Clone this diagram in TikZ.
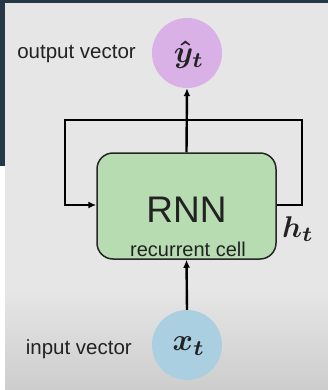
\documentclass[tikz,border=0pt]{standalone}
\usepackage{amsmath}
\usepackage{fontspec}
\usepackage{graphicx}
\setmainfont{Liberation Sans}
\usetikzlibrary{arrows.meta}
\definecolor{slate}{HTML}{263848}
\definecolor{bggray}{HTML}{E6E6E6}
\definecolor{bgdark}{HTML}{CDCDCD}
\definecolor{outpurple}{HTML}{DAB1E6}
\definecolor{inblue}{HTML}{A9CFE0}
\definecolor{cellgreen}{HTML}{B7DCB1}
\definecolor{txt}{HTML}{222222}
\tikzset{
  vec/.style={circle, minimum size=70pt, inner sep=0pt, text=txt},
  lbl/.style={font=\fontsize{20.5pt}{24pt}\selectfont, text=txt, inner sep=0pt},
  conn/.style={line width=2.4pt, black},
  arr/.style={conn, -{Latex[length=8pt,width=7pt]}},
}
\begin{document}
\begin{tikzpicture}[x=1pt,y=-1pt]
\useasboundingbox (0,0) rectangle (328,390);
% background
\fill[white] (0,0) rectangle (328,390);
\fill[slate] (0,0) rectangle (328,3.5);
\fill[slate] (0,0) rectangle (5,166);
\fill[bggray] (5,3.5) rectangle (328,290);
\shade[top color=bggray, bottom color=bgdark] (5,290) rectangle (328,390);
% nodes
\node[vec, fill=outpurple] (yhat) at (187,53) {};
\node[text=txt, inner sep=0pt] (yhatlbl) at (189,55) {\scalebox{3.1}{$\boldsymbol{\hat{y}_t}$}};
\node[vec, fill=inblue] (x) at (187,345) {};
\node[text=txt, inner sep=0pt] (xlbl) at (189,346) {\scalebox{3.1}{$\boldsymbol{x_t}$}};
\node[lbl, anchor=east] (outlbl) at (136,54) {output vector};
\node[lbl, anchor=east] (inlbl) at (132,349) {input vector};
\node[draw=black!85, line width=1.5pt, fill=cellgreen, rounded corners=16pt,
      minimum width=179pt, minimum height=106pt, inner sep=0pt] (cell) at (186.5,206) {};
\node[text=txt, font=\fontsize{37pt}{42pt}\selectfont, inner sep=0pt] (rnn) at (186.5,210) {RNN};
\node[text=txt, font=\fontsize{20pt}{24pt}\selectfont, inner sep=0pt] (rc) at (188,249) {recurrent cell};
\node[text=txt, inner sep=0pt] (h) at (298,229) {\scalebox{3.0}{$\boldsymbol{h_t}$}};
% connectors
\coordinate (re) at (302,205);
\coordinate (rt) at (302,120);
\coordinate (lt) at (65,120);
\coordinate (le) at (65,205);
\draw[arr] (x.north) -- (cell.south);
\draw[arr] (cell.north) -- (yhat.south);
\draw[arr] (cell.east |- re) -- (re) -- (rt) -- (lt) -- (le) -- (cell.west |- le);
\end{tikzpicture}
\end{document}
